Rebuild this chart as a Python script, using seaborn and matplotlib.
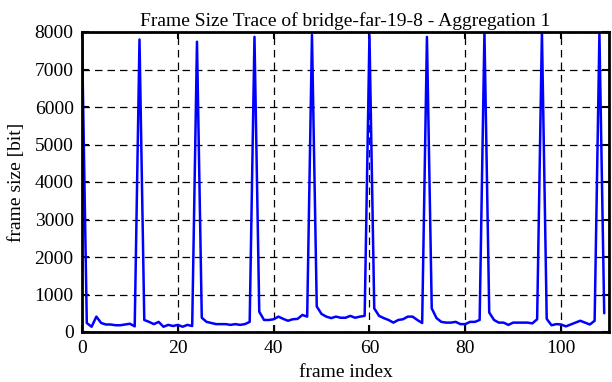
import matplotlib
matplotlib.use("Agg")
import matplotlib.pyplot as plt
import seaborn as sns
import pandas as pd

title = "Frame Size Trace of bridge-far-19-8 - Aggregation 1"
x_label = "frame index"
y_label = "frame size [bit]"

frame_size = [
    7870, 240, 140, 410, 240, 200, 200, 180, 180, 200, 220, 150,
    7800, 320, 270, 210, 270, 140, 190, 160, 190, 140, 190, 160,
    7740, 380, 270, 240, 210, 210, 210, 190, 210, 190, 210, 270,
    7870, 540, 320, 320, 340, 410, 350, 300, 340, 350, 455, 410,
    7920, 680, 480, 410, 370, 410, 380, 380, 430, 380, 410, 430,
    7920, 630, 430, 370, 320, 250, 320, 340, 410, 410, 320, 240,
    7870, 630, 370, 270, 250, 250, 270, 210, 210, 270, 270, 320,
    8000, 520, 320, 250, 250, 190, 250, 250, 250, 250, 230, 340,
    8000, 350, 180, 210, 200, 150, 200, 250, 300, 250, 200, 300,
    7950, 500,
]
frame_index = list(range(len(frame_size)))
x_ticks = [0, 20, 40, 60, 80, 100]
y_ticks = [0, 1000, 2000, 3000, 4000, 5000, 6000, 7000, 8000]

df = pd.DataFrame({"frame index": frame_index, "frame size": frame_size})

sns.set_style("ticks")
plt.rcParams["font.family"] = ["Liberation Serif", "DejaVu Serif"]
plt.rcParams["font.size"] = 14
plt.rcParams["text.color"] = "black"
plt.rcParams["axes.labelcolor"] = "black"

fig = plt.figure(figsize=(6.12, 3.82), dpi=100)
ax = fig.add_axes([82 / 612, 1 - 332 / 382, (609 - 82) / 612, (332 - 32) / 382])

sns.lineplot(data=df, x="frame index", y="frame size", ax=ax,
             color="#0000ff", linewidth=1.8, clip_on=True)

ax.set_xlim(0, 110)
ax.set_ylim(0, 8000)
ax.set_xticks(x_ticks)
ax.set_yticks(y_ticks)
ax.grid(True, color="black", linestyle=(0, (6, 4)), linewidth=0.9)
ax.set_axisbelow(True)
ax.tick_params(direction="in", top=True, right=True, length=5, width=1.5,
               labelsize=14, colors="black", pad=6)
for s in ax.spines.values():
    s.set_linewidth(2)
    s.set_color("black")
ax.set_xlabel(x_label, fontsize=14, labelpad=5, color="black")
ax.set_ylabel(y_label, fontsize=14, labelpad=7, color="black")
ax.set_title(title, fontsize=14, pad=4, color="black")

fig.savefig("out.png", dpi=100)
